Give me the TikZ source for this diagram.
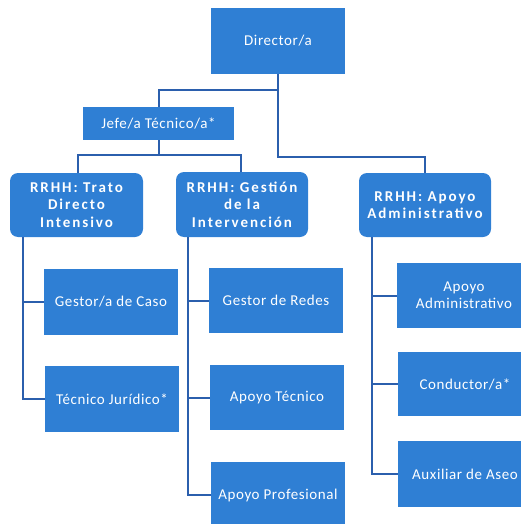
\documentclass[tikz,border=0pt]{standalone}
\usepackage{fontspec}
\setmainfont{Carlito}
\newfontfamily\boxfont[LetterSpace=4]{Carlito}
\newfontfamily\hdfont[LetterSpace=13]{Carlito}
\definecolor{boxblue}{HTML}{2F7FD4}
\definecolor{lineblue}{HTML}{2B5FAD}
\begin{document}
\begin{tikzpicture}[x=1pt,y=-1pt,
  bx/.style={fill=boxblue,draw=none,text=white,align=center,
    minimum width=134pt,minimum height=66pt,inner sep=0pt,
    font=\boxfont\fontsize{15}{17}\selectfont},
  hd/.style={bx,rounded corners=8pt,minimum width=133pt,minimum height=64pt,
    font=\hdfont\bfseries\fontsize{15}{17.5}\selectfont},
  ln/.style={draw=lineblue,line width=2pt}]
\useasboundingbox (0,0) rectangle (521,524);
\clip (0,0) rectangle (521,524);
\node[bx] (dir) at (278,41) {Director/a};
\node[bx,minimum width=151pt,minimum height=33pt] (jefe) at (158.5,123.5) {Jefe/a Técnico/a*};
\node[hd] (trato) at (76.5,205) {RRHH: Trato\\Directo\\Intensivo};
\node[hd,minimum width=132pt,minimum height=65pt] (gest) at (242,204.5) {RRHH: Gestión\\de la\\Intervención};
\node[hd,minimum width=132pt] (apoyoh) at (425,205) {RRHH: Apoyo\\Administrativo};
\node[bx] (caso) at (111,302) {Gestor/a de Caso};
\node[bx] (jur) at (112,399) {Técnico Jurídico*};
\node[bx,minimum height=65pt] (redes) at (276,300.5) {Gestor de Redes};
\node[bx,minimum height=65pt] (aptec) at (277,397.5) {Apoyo Técnico};
\node[bx] (approf) at (278,495) {Apoyo Profesional};
\node[bx,minimum height=65pt] (apadm) at (464,295.5) {Apoyo\\Administrativo};
\node[bx,minimum height=64pt] (cond) at (465,384) {Conductor/a*};
\node[bx] (aseo) at (465,474) {Auxiliar de Aseo};
% connectors
\draw[ln] (jefe.north) -- ++(0,-17) -| (dir.south);
\draw[ln] (dir.south) |- ([yshift=16pt]apoyoh.north) -- (apoyoh.north);
\draw[ln] (jefe.south) -- ++(0,15);
\draw[ln] ([xshift=1.5pt]trato.north) -- ++(0,-18) -| ([xshift=-1pt]gest.north);
\draw[ln] ([xshift=13pt]trato.south west) |- (caso.west);
\draw[ln] ([xshift=13pt]trato.south west) |- (jur.west);
\draw[ln] ([xshift=12pt]gest.south west) |- (redes.west);
\draw[ln] ([xshift=12pt]gest.south west) |- (aptec.west);
\draw[ln] ([xshift=12pt]gest.south west) |- (approf.west);
\draw[ln] ([xshift=13pt]apoyoh.south west) |- (apadm.west);
\draw[ln] ([xshift=13pt]apoyoh.south west) |- (cond.west);
\draw[ln] ([xshift=13pt]apoyoh.south west) |- (aseo.west);
\end{tikzpicture}
\end{document}
